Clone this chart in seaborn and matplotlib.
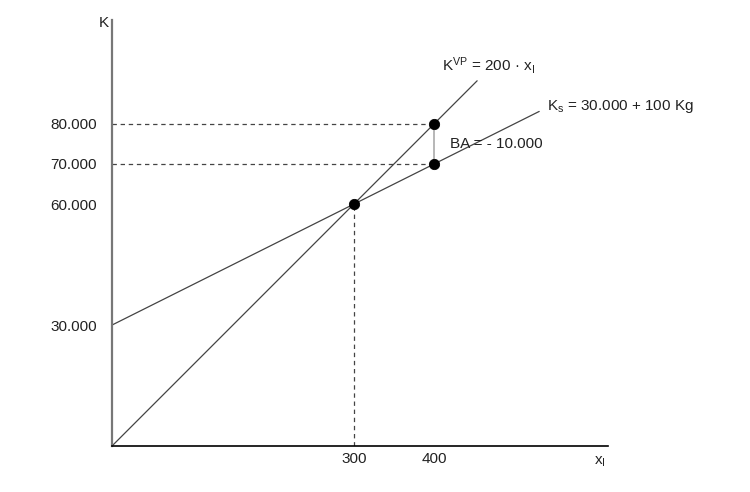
import numpy as np
import pandas as pd
import seaborn as sns
import matplotlib.pyplot as plt

# Daten
x_vp = [0, 453]
k_vp = [0, 90600]
x_s = [0, 530]
k_s = [30000, 83000]
punkte_x = [300, 400, 400]
punkte_k = [60000, 80000, 70000]
yticks = [30000, 60000, 70000, 80000]
ytick_labels = ["30.000", "60.000", "70.000", "80.000"]
xticks = [300, 400]
xtick_labels = ["300", "400"]

sns.set_style("white")
plt.rcParams['font.family'] = ['Liberation Sans', 'DejaVu Sans']
plt.rcParams['mathtext.fontset'] = 'custom'
plt.rcParams['mathtext.rm'] = 'Liberation Sans'
plt.rcParams['mathtext.it'] = 'Liberation Sans'
plt.rcParams['text.color'] = '#222222'

fig = plt.figure(figsize=(7.5, 4.92), dpi=100)
ax = fig.add_axes([0.1493, 0.0935, 0.661, 0.866])

df_vp = pd.DataFrame({"x": x_vp, "k": k_vp})
df_s = pd.DataFrame({"x": x_s, "k": k_s})
sns.lineplot(data=df_vp, x="x", y="k", color="#444444", linewidth=0.9, ax=ax)
sns.lineplot(data=df_s, x="x", y="k", color="#444444", linewidth=0.9, ax=ax)

# Hilfslinien
ax.plot([0, punkte_x[1]], [punkte_k[1], punkte_k[1]], ls=(0, (3.5, 3)), color="#444444", lw=0.9)
ax.plot([0, punkte_x[2]], [punkte_k[2], punkte_k[2]], ls=(0, (3.5, 3)), color="#444444", lw=0.9)
ax.plot([punkte_x[0], punkte_x[0]], [0, punkte_k[0]], ls=(0, (3.5, 3)), color="#444444", lw=0.9)
ax.plot([punkte_x[1], punkte_x[2]], [punkte_k[1], punkte_k[2]], color="#aaaaaa", lw=1.2)

sns.scatterplot(x=punkte_x, y=punkte_k, color="black", s=55, edgecolor="black", zorder=5, ax=ax)

ax.set_xlim(0, 615)
ax.set_ylim(0, 105700)
ax.set_xticks(xticks)
ax.set_xticklabels(xtick_labels)
ax.set_yticks(yticks)
ax.set_yticklabels(ytick_labels)
ax.tick_params(axis="y", direction="out", length=5, width=1, color="#444444", labelsize=11, pad=6, labelcolor="#222222")
ax.tick_params(axis="x", direction="in", length=4, width=1, color="#444444", labelsize=11, pad=4, labelcolor="#222222")
ax.set_xlabel("")
ax.set_ylabel("")

for s in ["top", "right"]:
    ax.spines[s].set_visible(False)
ax.spines["left"].set_color("#777777")
ax.spines["left"].set_linewidth(1.6)
ax.spines["bottom"].set_color("black")
ax.spines["bottom"].set_linewidth(1.2)

# Beschriftungen
ax.text(-4, 105000, "K", ha="right", va="center", fontsize=11)
ax.text(612, -4000, r"x$_{\mathrm{I}}$", ha="right", va="center", fontsize=11)
ax.text(410, 94500, r"K$^{\mathrm{VP}}$ = 200 · x$_{\mathrm{I}}$", ha="left", va="center", fontsize=11)
ax.text(540, 84200, r"K$_{\mathrm{s}}$ = 30.000 + 100 Kg", ha="left", va="center", fontsize=11)
ax.text(419, 74800, "BA = - 10.000", ha="left", va="center", fontsize=11)

plt.savefig("out.png", dpi=100)
